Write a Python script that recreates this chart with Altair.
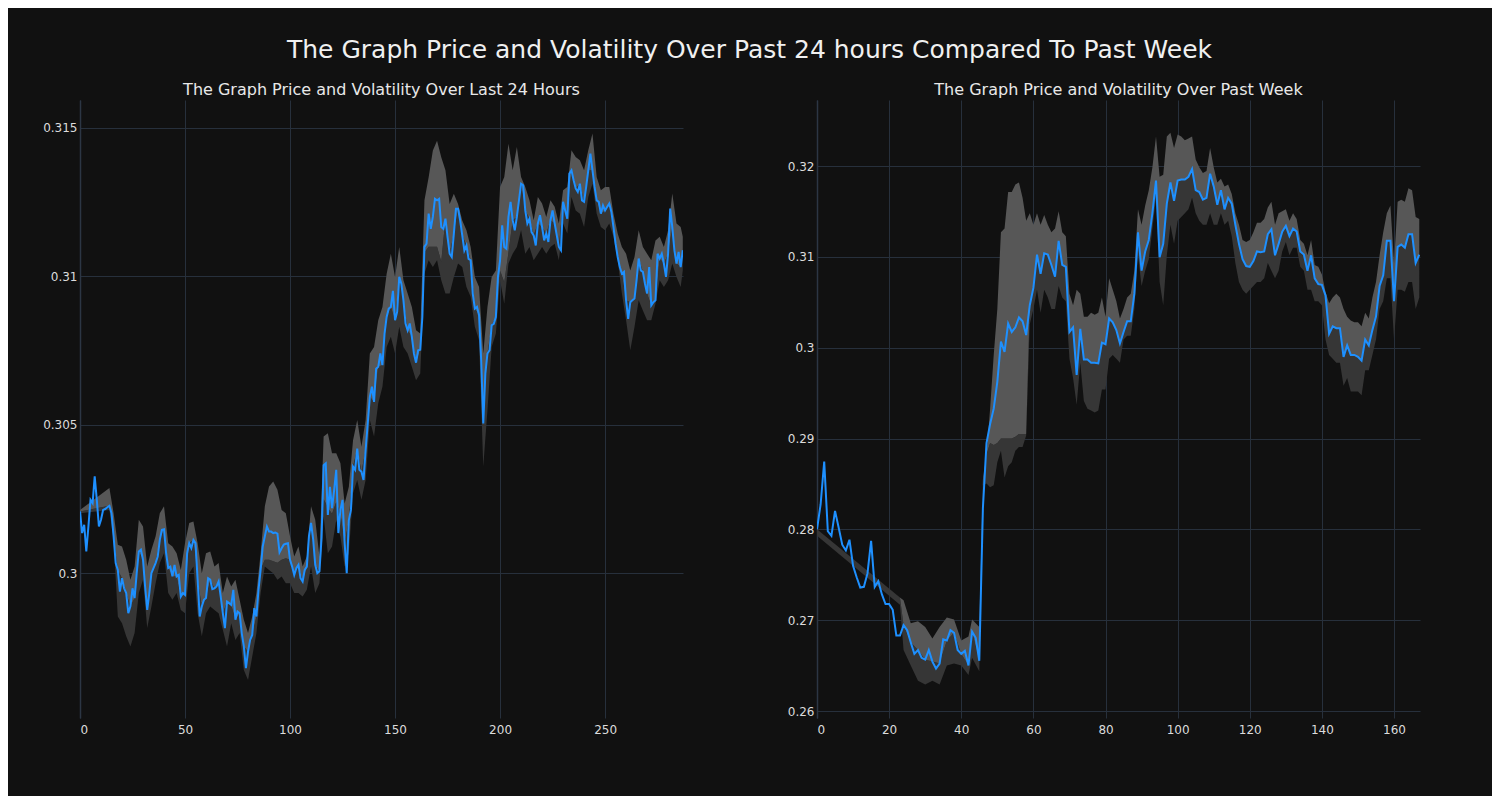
import altair as alt
import pandas as pd
import numpy as np

MAIN_TITLE = "The Graph Price and Volatility Over Past 24 hours Compared To Past Week"
LEFT_TITLE = "The Graph Price and Volatility Over Last 24 Hours"
RIGHT_TITLE = "The Graph Price and Volatility Over Past Week"

left_xticks = [0, 50, 100, 150, 200, 250]
left_yticks = [0.3, 0.305, 0.31, 0.315]
right_xticks = [0, 20, 40, 60, 80, 100, 120, 140, 160]
right_yticks = [0.26, 0.27, 0.28, 0.29, 0.30, 0.31, 0.32]

# ---- last 24 hours (5-minute steps) ----
left_price = [
    0.30208, 0.30135, 0.30163, 0.30073, 0.30157, 0.30247, 0.30236, 0.30326, 0.30247, 0.30157,
    0.30180, 0.30213, 0.30216, 0.30222, 0.30227, 0.30202, 0.30124, 0.30034, 0.30011, 0.29938,
    0.29983, 0.29949, 0.29933, 0.29865, 0.29888, 0.29949, 0.29916, 0.30000, 0.30073, 0.30079,
    0.30045, 0.29955, 0.29876, 0.29933, 0.30000, 0.30017, 0.30034, 0.30056, 0.30112, 0.30146,
    0.30148, 0.30067, 0.30017, 0.30022, 0.29989, 0.30028, 0.29989, 0.29994, 0.29921, 0.29933,
    0.29927, 0.30067, 0.30101, 0.30084, 0.30112, 0.30101, 0.29978, 0.29854, 0.29888, 0.29910,
    0.29916, 0.29983, 0.29978, 0.29946, 0.29949, 0.29955, 0.29972, 0.29921, 0.29865, 0.29815,
    0.29904, 0.29899, 0.29893, 0.29944, 0.29843, 0.29871, 0.29865, 0.29798, 0.29753, 0.29680,
    0.29736, 0.29775, 0.29792, 0.29882, 0.29854, 0.29944, 0.30011, 0.30090, 0.30124, 0.30157,
    0.30140, 0.30140, 0.30135, 0.30137, 0.30133, 0.30070, 0.30084, 0.30096, 0.30099, 0.30101,
    0.30045, 0.30022, 0.29994, 0.30017, 0.30028, 0.29983, 0.29972, 0.30011, 0.30022, 0.30124,
    0.30169, 0.30115, 0.30028, 0.30000, 0.30006, 0.30118, 0.30364, 0.30370, 0.30196, 0.30291,
    0.30219, 0.30280, 0.30348, 0.30135, 0.30213, 0.30247, 0.30101, 0.30000, 0.30179, 0.30213,
    0.30359, 0.30348, 0.30420, 0.30348, 0.30342, 0.30314, 0.30415, 0.30504, 0.30594, 0.30628,
    0.30577, 0.30689, 0.30695, 0.30740, 0.30701, 0.30807, 0.30863, 0.30891, 0.30897, 0.30951,
    0.30852, 0.30880, 0.30998, 0.30975, 0.30919, 0.30841, 0.30818, 0.30841, 0.30796, 0.30740,
    0.30709, 0.30751, 0.30753, 0.30863, 0.31099, 0.31110, 0.31211, 0.31160, 0.31200, 0.31261,
    0.31256, 0.31261, 0.31166, 0.31160, 0.31194, 0.31132, 0.31076, 0.31065, 0.31144, 0.31228,
    0.31228, 0.31188, 0.31138, 0.31087, 0.31104, 0.31059, 0.31054, 0.30942, 0.30891, 0.30897,
    0.30869, 0.30718, 0.30504, 0.30673, 0.30740, 0.30751, 0.30835, 0.30840, 0.30863, 0.30998,
    0.31054, 0.31172, 0.31099, 0.31093, 0.31200, 0.31251, 0.31189, 0.31155, 0.31200, 0.31256,
    0.31312, 0.31307, 0.31222, 0.31178, 0.31194, 0.31149, 0.31138, 0.31104, 0.31178, 0.31206,
    0.31166, 0.31121, 0.31144, 0.31116, 0.31189, 0.31222, 0.31178, 0.31138, 0.31099, 0.31088,
    0.31251, 0.31222, 0.31194, 0.31346, 0.31357, 0.31324, 0.31296, 0.31284, 0.31312, 0.31256,
    0.31251, 0.31301, 0.31357, 0.31413, 0.31357, 0.31301, 0.31256, 0.31251, 0.31211, 0.31239,
    0.31222, 0.31234, 0.31245, 0.31217, 0.31166, 0.31110, 0.31065, 0.31031, 0.31009, 0.31015,
    0.30919, 0.30857, 0.30913, 0.30919, 0.30925, 0.30987, 0.31060, 0.31020, 0.31015, 0.30975,
    0.30942, 0.31031, 0.30902, 0.30913, 0.30919, 0.31076, 0.31060, 0.31076, 0.31043, 0.30998,
    0.31076, 0.31228, 0.31166, 0.31088, 0.31043, 0.31082, 0.31031, 0.31088,
]

left_band_x = [0, 14] + list(range(16, 287, 2)) + [287]
left_upper = [
    0.30213, 0.30287,
    0.30202, 0.30096, 0.30090, 0.30045, 0.29978, 0.30022, 0.30180, 0.30157, 0.30022, 0.30079,
    0.30124, 0.30202, 0.30225, 0.30101, 0.30090, 0.30067, 0.30011, 0.30101, 0.30169, 0.30174,
    0.30101, 0.30000, 0.30067, 0.30073, 0.30022, 0.30034, 0.29933, 0.29989, 0.29955, 0.29978,
    0.29910, 0.29843, 0.29798, 0.29854, 0.29933, 0.30067, 0.30225, 0.30292, 0.30309, 0.30281,
    0.30213, 0.30202, 0.30124, 0.30056, 0.30090, 0.30022, 0.30056, 0.30225, 0.30180, 0.30056,
    0.30460, 0.30471, 0.30404, 0.30404, 0.30370, 0.30235, 0.30291, 0.30448, 0.30516, 0.30426,
    0.30516, 0.30740, 0.30762, 0.30852, 0.30897, 0.31009, 0.31076, 0.30998, 0.31099, 0.30987,
    0.30942, 0.30897, 0.30818, 0.30807, 0.31256, 0.31334, 0.31424, 0.31457, 0.31401, 0.31357,
    0.31244, 0.31278, 0.31244, 0.31188, 0.31155, 0.31099, 0.30998, 0.30964, 0.30740, 0.30897,
    0.30998, 0.31020, 0.31301, 0.31335, 0.31447, 0.31357, 0.31436, 0.31335, 0.31301, 0.31256,
    0.31189, 0.31267, 0.31245, 0.31200, 0.31256, 0.31234, 0.31178, 0.31290, 0.31301, 0.31425,
    0.31402, 0.31391, 0.31357, 0.31425, 0.31481, 0.31335, 0.31290, 0.31301, 0.31301, 0.31211,
    0.31144, 0.31099, 0.31076, 0.31020, 0.31065, 0.31155, 0.31099, 0.31076, 0.31054, 0.31121,
    0.31133, 0.31099, 0.31155, 0.31279, 0.31178, 0.31166, 0.31133,
]
left_lower = [
    0.30202, 0.30213,
    0.30112, 0.29854, 0.29831, 0.29787, 0.29753, 0.29798, 0.29933, 0.29978, 0.29815, 0.29888,
    0.29966, 0.30034, 0.30067, 0.29933, 0.29910, 0.29933, 0.29876, 0.29865, 0.30000, 0.30022,
    0.29865, 0.29787, 0.29865, 0.29888, 0.29876, 0.29865, 0.29809, 0.29753, 0.29831, 0.29775,
    0.29798, 0.29674, 0.29640, 0.29719, 0.29798, 0.29933, 0.30022, 0.30011, 0.30000, 0.29978,
    0.29989, 0.29966, 0.29966, 0.29933, 0.29933, 0.29921, 0.29944, 0.30022, 0.29933, 0.29966,
    0.30191, 0.30067, 0.30090, 0.30179, 0.30123, 0.30022, 0.30067, 0.30269, 0.30314, 0.30247,
    0.30314, 0.30516, 0.30460, 0.30572, 0.30628, 0.30762, 0.30796, 0.30740, 0.30830, 0.30762,
    0.30740, 0.30695, 0.30650, 0.30673, 0.31009, 0.31054, 0.31031, 0.31054, 0.30987, 0.30942,
    0.30942, 0.30998, 0.31043, 0.31031, 0.30964, 0.30931, 0.30830, 0.30785, 0.30359, 0.30549,
    0.30762, 0.30807, 0.30987, 0.30908, 0.31043, 0.31076, 0.31099, 0.31155, 0.31076, 0.31099,
    0.31054, 0.31076, 0.31099, 0.31076, 0.31099, 0.31110, 0.31054, 0.31178, 0.31144, 0.31267,
    0.31222, 0.31211, 0.31166, 0.31267, 0.31312, 0.31211, 0.31166, 0.31155, 0.31178, 0.31133,
    0.31054, 0.30942, 0.30852, 0.30751, 0.30829, 0.30919, 0.30885, 0.30852, 0.30852, 0.30908,
    0.30987, 0.30964, 0.30987, 0.31043, 0.30998, 0.30964, 0.31020,
]
# light/dark boundary read where it departs from the price line (rising stretches)
left_mid_read = {
    88: 0.30045, 90: 0.30045, 92: 0.30040, 94: 0.30035, 96: 0.30045, 98: 0.30050,
    116: 0.30250, 118: 0.30220, 120: 0.30200, 122: 0.30240, 124: 0.30200,
    164: 0.31080, 166: 0.31100, 168: 0.31100, 170: 0.31100, 172: 0.31050,
    200: 0.31020, 202: 0.30980, 204: 0.31080,
}

# ---- past week (hourly steps) ----
right_price = [
    0.28000, 0.28274, 0.28747, 0.27979, 0.27928, 0.28203, 0.28021, 0.27831, 0.27768, 0.27886,
    0.27599, 0.27473, 0.27359, 0.27367, 0.27515, 0.27873, 0.27367, 0.27430, 0.27283, 0.27177,
    0.27177, 0.27114, 0.26831, 0.26831, 0.26945, 0.26890, 0.26755, 0.26629, 0.26671, 0.26586,
    0.26565, 0.26671, 0.26544, 0.26468, 0.26523, 0.26789, 0.26776, 0.26890, 0.26861, 0.26671,
    0.26629, 0.26662, 0.26502, 0.26873, 0.26806, 0.26553, 0.28232, 0.28949, 0.29160, 0.29329,
    0.29624, 0.30068, 0.29954, 0.30266, 0.30173, 0.30224, 0.30333, 0.30291, 0.30139, 0.30468,
    0.30658, 0.31025, 0.30814, 0.31038, 0.31025, 0.30911, 0.30781, 0.31177, 0.30911, 0.30890,
    0.30173, 0.30224, 0.29700, 0.30207, 0.29869, 0.29869, 0.29835, 0.29835, 0.29827, 0.30055,
    0.30038, 0.30321, 0.30278, 0.30194, 0.30046, 0.30173, 0.30291, 0.30291, 0.30595, 0.31270,
    0.30848, 0.31059, 0.31186, 0.31481, 0.31840, 0.30996, 0.31143, 0.31586, 0.31819, 0.31616,
    0.31840, 0.31852, 0.31852, 0.31882, 0.31966, 0.31734, 0.31713, 0.31629, 0.31650, 0.31916,
    0.31776, 0.31574, 0.31734, 0.31523, 0.31650, 0.31586, 0.31354, 0.31143, 0.30975, 0.30899,
    0.30890, 0.30954, 0.31059, 0.31051, 0.31059, 0.31249, 0.31304, 0.31017, 0.31143, 0.31278,
    0.31342, 0.31228, 0.31312, 0.31278, 0.31059, 0.31025, 0.30848, 0.31017, 0.30764, 0.30700,
    0.30692, 0.30574, 0.30152, 0.30236, 0.30215, 0.30215, 0.29899, 0.30025, 0.29920, 0.29920,
    0.29899, 0.29857, 0.30089, 0.30025, 0.30194, 0.30342, 0.30679, 0.30797, 0.31177, 0.31177,
    0.30511, 0.31110, 0.31135, 0.31101, 0.31249, 0.31249, 0.30932, 0.31025,
]

right_band_x = [0, 23, 24, 26, 28, 30, 32, 34, 36, 38, 40, 42, 43, 45, 46] + list(range(47, 168))
right_upper = [
    0.28000, 0.27250, 0.27219, 0.26966, 0.26987, 0.26924, 0.26797, 0.26924, 0.27030, 0.27008,
    0.26776, 0.26819, 0.27008, 0.26924, 0.28550,
    0.28823, 0.29329, 0.29920, 0.30426, 0.31270, 0.31312, 0.31713, 0.31713, 0.31797, 0.31819,
    0.31650, 0.31397, 0.31481, 0.31354, 0.31481, 0.31354, 0.31460, 0.31354, 0.31270, 0.31312,
    0.31502, 0.31270, 0.31228, 0.30595, 0.30468, 0.30637, 0.30595, 0.30342, 0.30342, 0.30384,
    0.30363, 0.30384, 0.30553, 0.30342, 0.30764, 0.30637, 0.30511, 0.30321, 0.30426, 0.30553,
    0.30595, 0.30848, 0.31523, 0.31354, 0.31565, 0.31734, 0.31987, 0.32325, 0.31882, 0.31903,
    0.32325, 0.32367, 0.32198, 0.32346, 0.32325, 0.32283, 0.32304, 0.32325, 0.32072, 0.31987,
    0.31924, 0.31945, 0.32198, 0.31987, 0.31819, 0.31861, 0.31776, 0.31797, 0.31692, 0.31481,
    0.31354, 0.31186, 0.31165, 0.31186, 0.31270, 0.31376, 0.31376, 0.31418, 0.31544, 0.31608,
    0.31354, 0.31481, 0.31502, 0.31523, 0.31397, 0.31481, 0.31418, 0.31186, 0.31143, 0.31017,
    0.31186, 0.30911, 0.30890, 0.30806, 0.30616, 0.30489, 0.30553, 0.30595, 0.30553, 0.30426,
    0.30342, 0.30300, 0.30279, 0.30279, 0.30236, 0.30384, 0.30321, 0.30553, 0.30722, 0.31017,
    0.31270, 0.31481, 0.31565, 0.30932, 0.31608, 0.31629, 0.31608, 0.31755, 0.31734, 0.31439,
    0.31418,
]
right_lower = [
    0.27930, 0.27170, 0.26671, 0.26502, 0.26333, 0.26291, 0.26333, 0.26291, 0.26502, 0.26523,
    0.26502, 0.26397, 0.26586, 0.26439, 0.28480,
    0.28506, 0.28464, 0.28485, 0.28738, 0.28865, 0.28570, 0.28696, 0.28738, 0.28865, 0.28907,
    0.28907, 0.29034, 0.30257, 0.30426, 0.30637, 0.30384, 0.30637, 0.30553, 0.30426, 0.30426,
    0.30679, 0.30553, 0.30511, 0.29878, 0.29667, 0.29371, 0.29835, 0.29414, 0.29329, 0.29308,
    0.29287, 0.29308, 0.29540, 0.29540, 0.29878, 0.29920, 0.29878, 0.29835, 0.30089, 0.30131,
    0.30131, 0.30426, 0.31017, 0.30679, 0.30848, 0.30975, 0.31312, 0.31650, 0.30722, 0.30468,
    0.31017, 0.31354, 0.31143, 0.31397, 0.31439, 0.31481, 0.31523, 0.31650, 0.31481, 0.31397,
    0.31354, 0.31354, 0.31481, 0.31354, 0.31354, 0.31481, 0.31354, 0.31397, 0.31228, 0.30932,
    0.30722, 0.30637, 0.30595, 0.30637, 0.30679, 0.30722, 0.30722, 0.30764, 0.30932, 0.30848,
    0.30764, 0.30848, 0.31059, 0.31165, 0.31017, 0.31101, 0.31101, 0.30890, 0.30848, 0.30637,
    0.30637, 0.30511, 0.30511, 0.30468, 0.30089, 0.29920, 0.29878, 0.29835, 0.29835, 0.29582,
    0.29667, 0.29519, 0.29519, 0.29519, 0.29477, 0.29751, 0.29751, 0.29920, 0.30089, 0.30426,
    0.30511, 0.30764, 0.30764, 0.30089, 0.30637, 0.30637, 0.30616, 0.30722, 0.30722, 0.30426,
    0.30553,
]
right_mid_read = {
    48: 0.28950, 49: 0.28930, 50: 0.28950, 51: 0.29000, 52: 0.29000, 53: 0.29000,
    54: 0.29000, 55: 0.29020, 56: 0.29050, 57: 0.29050, 58: 0.29050,
}
# the initial strips are shaded in the darker tone
right_dark_only = [0, 23]


def frames(price, bx, up, lo, mid_read, dark_only=()):
    line = pd.DataFrame({"x": list(range(len(price))), "price": price})
    mids = []
    for xv, u, l in zip(bx, up, lo):
        if xv in dark_only:
            mids.append(u)
        else:
            m = mid_read.get(xv, price[xv])
            mids.append(min(max(m, l), u))
    band = pd.DataFrame({"x": bx, "upper": up, "lower": lo, "mid": mids})
    return line, band


BG = "#111111"
GRID = "#27303c"
FONT = "DejaVu Sans"


def panel(price, bx, up, lo, mid_read, xdom, ydom, xticks, yticks, title, minext, dark_only=()):
    line_df, band_df = frames(price, bx, up, lo, mid_read, dark_only)
    xs = alt.Scale(domain=xdom, nice=False, zero=False)
    ys = alt.Scale(domain=ydom, nice=False, zero=False)
    xax = alt.Axis(values=xticks, title=None, format="d")
    yax = alt.Axis(values=yticks, title=None, format="~g", minExtent=minext, maxExtent=minext)
    dark = alt.Chart(band_df).mark_area(color="#363636", opacity=1, clip=True).encode(
        x=alt.X("x:Q", scale=xs, axis=xax),
        y=alt.Y("lower:Q", scale=ys, axis=yax),
        y2="mid:Q",
    )
    light = alt.Chart(band_df).mark_area(color="#575757", opacity=1, clip=True).encode(
        x=alt.X("x:Q", scale=xs),
        y=alt.Y("mid:Q", scale=ys),
        y2="upper:Q",
    )
    line = alt.Chart(line_df).mark_line(color="#1e90ff", strokeWidth=2, clip=True).encode(
        x=alt.X("x:Q", scale=xs),
        y=alt.Y("price:Q", scale=ys),
    )
    return alt.layer(dark, light, line).properties(
        width=603,
        height=618,
        title=alt.TitleParams(
            text=title, fontSize=16, font=FONT, fontWeight="normal", color="#e8e8e8",
            anchor="middle", offset=2,
        ),
    )


left = panel(left_price, left_band_x, left_upper, left_lower, left_mid_read,
             [0, 287.1], [0.29512, 0.31594], left_xticks, left_yticks, LEFT_TITLE, 67)
right = panel(right_price, right_band_x, right_upper, right_lower, right_mid_read,
              [0, 167.2], [0.25923, 0.32727], right_xticks, right_yticks, RIGHT_TITLE, 40,
              right_dark_only)

chart = alt.hconcat(left, right, spacing=94).properties(
    title=alt.TitleParams(
        text=MAIN_TITLE, fontSize=25, font=FONT, fontWeight="normal", color="#f0f0f0",
        anchor="middle", offset=19, dx=33,
    ),
    padding={"left": 5, "top": 30, "right": 72, "bottom": 61},
).configure(
    background=BG, font=FONT,
).configure_view(
    stroke=None, fill=BG,
).configure_axis(
    grid=True, gridColor=GRID, gridWidth=1, domain=False, ticks=False,
    labelColor="#dcdcdc", labelFontSize=12, labelFont=FONT, labelPadding=6,
).configure_axisY(
    domain=True, domainColor="#2c3644", domainWidth=1.5, labelPadding=3,
)

chart.save("out.html", embed_options={"renderer": "svg", "actions": False})
